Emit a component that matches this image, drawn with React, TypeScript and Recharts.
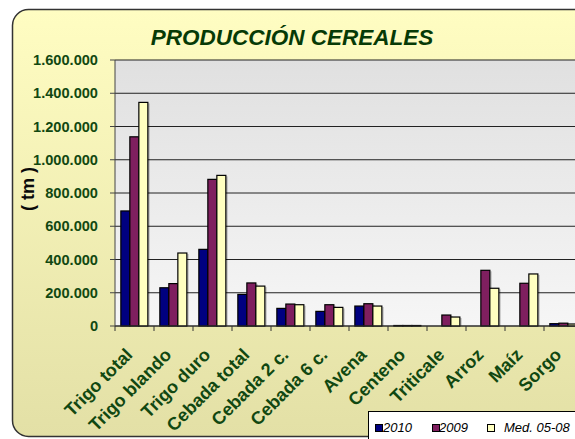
import React from 'react';
import { BarChart, Bar, XAxis, YAxis, CartesianGrid, Legend } from 'recharts';

const categories = ['Trigo total', 'Trigo blando', 'Trigo duro', 'Cebada total', 'Cebada 2 c.', 'Cebada 6 c.', 'Avena', 'Centeno', 'Triticale', 'Arroz', 'Maíz', 'Sorgo'];
const s2010 = [692000, 230000, 461000, 190000, 106000, 88000, 120000, 3000, null, null, null, 14000];
const s2009 = [1138000, 255000, 882000, 259000, 132000, 128000, 134000, 3000, 66000, 335000, 257000, 17000];
const sMed = [1345000, 439000, 906000, 240000, 128000, 112000, 120000, 3000, 54000, 227000, 313000, 12000];
const yTicks = [0, 200000, 400000, 600000, 800000, 1000000, 1200000, 1400000, 1600000];
const seriesNames = ['2010', '2009', 'Med. 05-08'];

const data = categories.map((c, i) => ({ name: c, a: s2010[i], b: s2009[i], c: sMed[i] }));

const FONT = "Arial, 'Liberation Sans', sans-serif";
const GREEN = '#114811';
const COLORS = ['#000080', '#7f1f5f', '#ffffc0'];

const CHART_W = 600;
const CHART_H = 439;
const MARGIN = { top: 60, right: 17, left: 0, bottom: 0 };
const Y_W = 115;
const X_H = 113;
const BAND = (CHART_W - MARGIN.left - MARGIN.right - Y_W) / categories.length;

const fmt = (v: number) => String(v).replace(/\B(?=(\d{3})+(?!\d))/g, '.');

const XTick = (props: any) => {
  const { x, y, payload } = props;
  const ax = x - 1;
  const ay = y + 30;
  return (
    <g>
      <line x1={x - BAND / 2} x2={x - BAND / 2} y1={y} y2={y + 5} stroke="#333" strokeWidth={1} />
      <text
        x={ax}
        y={ay}
        textAnchor="end"
        transform={`rotate(-45 ${ax} ${ay})`}
        fill={GREEN}
        fontFamily={FONT}
        fontWeight="bold"
        fontSize={18}
      >
        {payload.value}
      </text>
    </g>
  );
};

const BarShape = (props: any) => {
  const { x, y, width, height, fill } = props;
  if (!height || height <= 0) return null;
  return (
    <g>
      <rect x={x + 2} y={y + 1} width={width} height={Math.max(height - 1, 0)} fill="#000" fillOpacity={0.18} />
      <rect x={x} y={y} width={width} height={height} fill={fill} stroke="#000" strokeWidth={1.2} />
    </g>
  );
};

const LegendBox = () => (
  <div
    style={{
      position: 'relative',
      width: 240,
      height: 34,
      background: '#fff',
      border: '1px solid #000',
      boxSizing: 'border-box',
      fontFamily: FONT,
      fontStyle: 'italic',
      fontSize: 13,
      color: '#000',
    }}
  >
    {seriesNames.map((n, i) => {
      const sq = [6, 63, 118][i];
      const tx = [14, 70, 135][i];
      return (
        <React.Fragment key={n}>
          <div style={{ position: 'absolute', left: sq, top: 12, width: 6, height: 6, background: COLORS[i], border: '1px solid #000' }} />
          <div style={{ position: 'absolute', left: tx, top: 8, lineHeight: '15px', whiteSpace: 'nowrap' }}>{n}</div>
        </React.Fragment>
      );
    })}
  </div>
);

export default function App() {
  return (
    <div style={{ position: 'absolute', left: 0, top: 0, width: 575, height: 439, overflow: 'hidden', background: '#fff' }}>
      <svg width={575} height={439} style={{ position: 'absolute', left: 0, top: 0 }}>
        <defs>
          <linearGradient id="outerGrad" x1="0" y1="0" x2="0" y2="1">
            <stop offset="0%" stopColor="#fffdc2" />
            <stop offset="100%" stopColor="#e3e0a6" />
          </linearGradient>
          <linearGradient id="plotGrad" x1="0" y1="0" x2="0" y2="1">
            <stop offset="0%" stopColor="#e0e0e0" />
            <stop offset="100%" stopColor="#f6f6f6" />
          </linearGradient>
        </defs>
        <rect x={12.5} y={9.5} width={600} height={427} rx={16} ry={16} fill="url(#outerGrad)" stroke="#333" strokeWidth={1.5} />
        <text x={292} y={45} textAnchor="middle" fill="#063a06" fontFamily={FONT} fontWeight="bold" fontStyle="italic" fontSize={22.5}>
          PRODUCCIÓN CEREALES
        </text>
        <text x={34} y={189} textAnchor="middle" transform="rotate(-90 34 189)" fill="#0a0a0a" fontFamily={FONT} fontWeight="bold" fontSize={18}>
          ( tm )
        </text>
      </svg>
      <div style={{ position: 'absolute', left: 0, top: 0 }}>
        <BarChart width={CHART_W} height={CHART_H} data={data} margin={MARGIN} barCategoryGap="15%" barGap={0}>
          <CartesianGrid vertical={false} stroke="#222" fill="url(#plotGrad)" />
          <XAxis
            dataKey="name"
            height={X_H}
            interval={0}
            tickLine={false}
            tickSize={0}
            tickMargin={0}
            axisLine={{ stroke: '#333' }}
            tick={<XTick />}
          />
          <YAxis
            width={Y_W}
            domain={[0, 1600000]}
            ticks={yTicks}
            tickFormatter={fmt}
            tickSize={5}
            tickMargin={12}
            axisLine={{ stroke: '#444' }}
            tickLine={{ stroke: '#444' }}
            tick={{ fill: GREEN, fontFamily: FONT, fontWeight: 'bold', fontSize: 14.6 }}
          />
          <Legend
            layout="vertical"
            align="center"
            verticalAlign="middle"
            content={<LegendBox />}
            wrapperStyle={{ position: 'absolute', left: 368, top: 411, width: 240 }}
          />
          <Bar dataKey="a" name={seriesNames[0]} fill={COLORS[0]} shape={<BarShape />} isAnimationActive={false} />
          <Bar dataKey="b" name={seriesNames[1]} fill={COLORS[1]} shape={<BarShape />} isAnimationActive={false} />
          <Bar dataKey="c" name={seriesNames[2]} fill={COLORS[2]} shape={<BarShape />} isAnimationActive={false} />
        </BarChart>
      </div>
    </div>
  );
}
